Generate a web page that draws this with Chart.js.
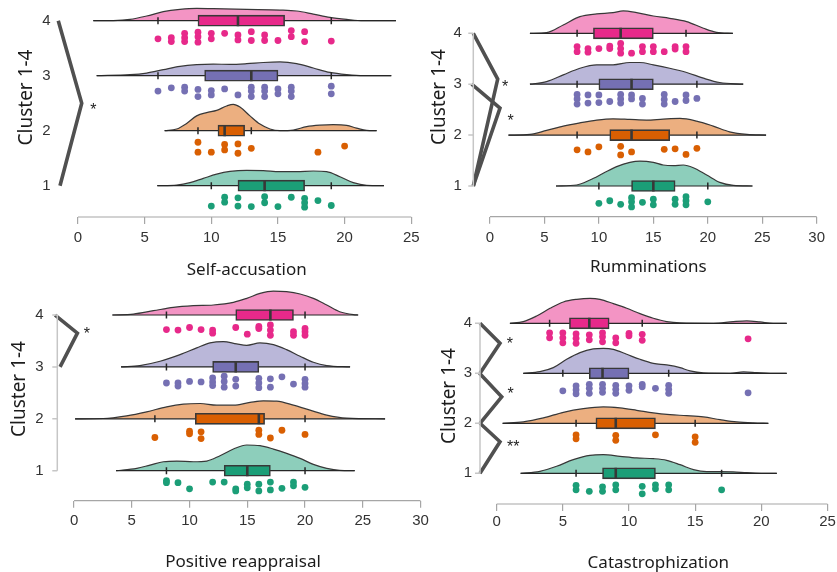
<!DOCTYPE html>
<html>
<head>
<meta charset="utf-8">
<title>Cluster 1-4 raincloud plots</title>
<script src="https://cdn.jsdelivr.net/npm/chart.js@4.4.1/dist/chart.umd.min.js"></script>
<style>
  html, body { margin: 0; padding: 0; background: #fff; width: 837px; height: 572px; overflow: hidden; position: relative; }
  canvas { position: absolute; }
</style>
</head>
<body>
<canvas id="selfChart" width="440" height="300" style="left:0;top:-20px"></canvas>
<canvas id="rumChart" width="440" height="300" style="left:420px;top:-20px"></canvas>
<canvas id="posChart" width="440" height="312" style="left:0;top:260px"></canvas>
<canvas id="catChart" width="440" height="312" style="left:420px;top:260px"></canvas>
<script>
// ---- data (index 0 = cluster 1 ... index 3 = cluster 4) ----
const clusters = [1, 2, 3, 4];
const yTitle = "Cluster 1-4";

// box: [low whisker, q1, median, q3, high whisker]
// dens: [score, density height]   pts: [score, jitter]
// brackets: [from, fromX, to, toX, apexX, apexY, label, labelX, labelY]

// Self-accusation
const selfTicks = [0, 5, 10, 15, 20, 25];
const selfBox = [[10, 12, 14, 17, 19], [9, 10.5, 11, 12.5, 13], [6, 9.5, 13, 15, 19], [6, 9, 12, 15.5, 19]];
const selfDens = [
  [[5.95,0],[7.4,.012],[8.4,.055],[9.4,.133],[10.4,.21],[11.4,.26],[12.65,.28],[13.9,.273],[15.15,.255],[16.4,.255],[17.65,.267],[18.65,.255],[19.65,.164],[20.65,.055],[21.65,.006],[22.95,0]],
  [[6.5,0],[7.4,.03],[8.15,.133],[8.9,.27],[9.65,.33],[10.4,.37],[11.15,.45],[11.65,.48],[12.15,.43],[12.9,.27],[13.65,.12],[14.4,.03],[15.15,0],[16.15,.012],[17.15,.073],[18.15,.1],[19.15,.11],[20.15,.097],[20.9,.048],[21.65,.006],[22.4,0]],
  [[1.4,0],[3.9,.018],[5.15,.048],[6.4,.11],[7.65,.17],[8.9,.2],[10.15,.21],[11.4,.206],[12.65,.218],[13.9,.24],[15.15,.25],[16.4,.22],[17.65,.14],[18.9,.06],[20.15,.02],[21.4,0],[23.5,0]],
  [[1.15,0],[2.65,.003],[3.9,.024],[5.15,.085],[6.4,.164],[7.65,.206],[8.9,.224],[10.15,.218],[12.65,.206],[15.15,.194],[16.4,.176],[17.65,.12],[18.9,.06],[20.15,.024],[21.4,0],[23.85,0]]
];
const selfPts = [
  [[10,.37],[11,.21],[11,.30],[12,.22],[12,.37],[13,.38],[14,.20],[14,.31],[15,.38],[16,.21],[17,.23],[17,.31],[17,.39],[18,.27],[19,.36]],
  [[9,.21],[9,.39],[10,.39],[11,.25],[11,.35],[12,.24],[12,.41],[13,.32],[18,.39],[20,.28]],
  [[6,.28],[7,.22],[8,.21],[8,.28],[9,.25],[9,.38],[10,.27],[10,.35],[11,.24],[12,.35],[13,.21],[13,.28],[13,.38],[14,.21],[14,.28],[14,.38],[15,.24],[15,.33],[16,.21],[16,.28],[16,.38],[19,.19],[19,.33]],
  [[6,.33],[7,.31],[7,.38],[8,.23],[8,.31],[8,.38],[9,.21],[9,.29],[9,.39],[10,.23],[10,.33],[11,.23],[12,.26],[12,.35],[13,.2],[13,.36],[14,.26],[14,.36],[15,.36],[16,.18],[16,.29],[17,.2],[17,.38],[19,.37]]
];
const selfBrackets = [[4, -1.48, 1, -1.35, 0.28, 2.5, "*", 1.15, 2.45]];

// Rumminations
const rumTicks = [0, 5, 10, 15, 20, 25, 30];
const rumBox = [[10, 13, 15, 17, 20], [8, 11, 13, 16.5, 19], [8, 10, 13, 15, 19], [8, 9.5, 12, 15, 18]];
const rumDens = [
  [[6.06,0],[7.96,.02],[9.18,.118],[10.4,.249],[11.63,.38],[12.85,.465],[13.77,.49],[15,.465],[15.9,.413],[16.84,.4],[17.75,.413],[18.67,.36],[19.9,.216],[21.1,.072],[22.35,.013],[24.1,0]],
  [[1.7,0],[3.67,.013],[5.2,.092],[6.73,.177],[8.26,.242],[9.8,.295],[11.3,.32],[12.84,.308],[14.37,.295],[15.9,.314],[17.44,.327],[18.97,.275],[20.5,.177],[22,.065],[23.6,.013],[25.35,0]],
  [[3.67,0],[5.2,.052],[6.73,.183],[8.26,.314],[9.8,.38],[11.3,.38],[12.84,.426],[13.76,.426],[15,.38],[16.5,.314],[18.06,.23],[19.6,.118],[21.1,.033],[23.25,0]],
  [[3.67,0],[5.2,.013],[6.73,.164],[8.26,.327],[9.8,.38],[11.3,.406],[12.24,.44],[13.47,.406],[15,.34],[16.5,.295],[18.06,.23],[19.6,.1],[20.8,.02],[22.3,0]]
];
const rumPts = [
  [[10,.34],[11,.29],[12,.36],[13,.23],[13,.31],[13,.41],[14,.32],[15,.26],[15,.37],[17,.26],[17,.36],[18,.21],[18,.29],[18,.37],[20,.31]],
  [[8,.29],[9,.33],[10,.23],[12,.22],[12,.39],[13,.33],[16,.28],[17,.27],[18,.38],[19,.26]],
  [[8,.2],[8,.29],[8,.39],[9,.21],[9,.37],[10,.21],[10,.36],[11,.34],[12,.2],[12,.29],[12,.37],[13,.21],[13,.29],[14,.28],[14,.39],[16,.2],[16,.3],[16,.39],[17,.34],[18,.21],[18,.32],[19,.28]],
  [[8,.26],[8,.36],[9,.3],[9,.37],[10,.3],[11,.25],[11,.3],[12,.2],[12,.3],[12,.39],[13,.39],[14,.26],[14,.36],[15,.26],[15,.36],[16,.36],[17,.26],[17,.31],[18,.26],[18,.36]]
];
const rumBrackets = [[4, -1.53, 1, -1.53, 0.71, 3.1, "*", 1.38, 3.02], [3, -1.68, 1, -1.53, 0.92, 2.53, "*", 1.9, 2.36]];

// Positive reappraisal
const posTicks = [0, 5, 10, 15, 20, 25, 30];
const posBox = [[8, 13, 15, 17, 20], [7, 10.5, 16, 16.5, 20], [8, 12, 14, 16, 20], [8, 14, 17, 19, 20]];
const posDens = [
  [[3.64,0],[5.43,.045],[6.58,.109],[7.74,.173],[8.9,.186],[10.33,.173],[11.49,.186],[12.64,.289],[13.8,.417],[14.95,.495],[16.1,.482],[17.26,.417],[18.41,.334],[19.57,.238],[20.72,.122],[21.88,.045],[23,.006],[24.3,0]],
  [[0.09,0],[2.54,.006],[4.56,.058],[6.29,.135],[8.02,.231],[9.47,.283],[10.91,.295],[12.35,.263],[13.8,.263],[15.24,.315],[16.39,.347],[17.55,.34],[18.99,.263],[20.43,.167],[21.88,.071],[23.6,.013],[26.93,0]],
  [[4.07,0],[5.7,.026],[7.45,.109],[9.18,.238],[10.62,.366],[11.77,.462],[12.93,.488],[14.08,.443],[14.95,.417],[16.1,.462],[17.26,.43],[18.4,.334],[19.57,.206],[20.72,.09],[21.88,.026],[23.9,0]],
  [[3.32,0],[5.14,.019],[6.87,.083],[8.6,.148],[10.33,.18],[12.06,.193],[13.8,.244],[14.95,.321],[16.1,.417],[17.26,.462],[18.4,.45],[19.57,.405],[20.72,.321],[21.88,.193],[23,.064],[24.2,.006],[24.6,0]]
];
const posPts = [
  [[8,.19],[8,.23],[9,.23],[10,.35],[12,.22],[13,.22],[14,.35],[14,.39],[15,.26],[15,.33],[16,.26],[16,.39],[17,.22],[17,.37],[18,.34],[19,.22],[19,.29],[20,.32]],
  [[7,.36],[10,.24],[10,.29],[11,.25],[11,.38],[16,.22],[16,.3],[17,.37],[18,.22],[20,.3]],
  [[8,.31],[9,.31],[9,.37],[10,.28],[11,.29],[12,.21],[12,.29],[12,.36],[13,.18],[13,.28],[13,.39],[14,.24],[14,.37],[16,.22],[16,.31],[16,.4],[17,.23],[17,.39],[18,.19],[19,.33],[20,.24],[20,.32],[20,.39]],
  [[8,.28],[9,.29],[10,.24],[11,.28],[12,.29],[12,.35],[14,.24],[15,.37],[16,.22],[16,.26],[17,.19],[17,.29],[17,.39],[19,.32],[19,.39],[20,.26],[20,.32],[20,.39]]
];
const posBrackets = [[4, -1.64, 3, -1.21, 0.29, 3.65, "*", 1.1, 3.72]];

// Catastrophization
const catTicks = [0, 5, 10, 15, 20, 25];
const catBox = [[6, 8, 9, 12, 17], [6, 7.5, 9, 12, 15], [5, 7, 8, 10, 13], [4, 5.5, 7, 8.5, 11]];
const catDens = [
  [[1.81,0],[3.27,.04],[4.53,.14],[5.79,.273],[7.05,.36],[8.06,.373],[9.32,.34],[10.58,.307],[11.84,.293],[12.85,.26],[13.86,.173],[14.87,.073],[15.87,.033],[16.88,.033],[17.89,.027],[18.9,.013],[20.16,0],[21.17,0]],
  [[0.45,0],[2.01,.027],[3.53,.107],[5.04,.22],[6.55,.293],[8.06,.327],[9.32,.307],[10.58,.26],[11.84,.207],[13.1,.173],[14.36,.153],[15.62,.127],[16.88,.073],[18.14,.027],[19.4,.007],[20.53,0]],
  [[2.01,0],[3.27,.033],[4.28,.113],[5.29,.28],[6.3,.413],[7.3,.487],[8.06,.5],[8.82,.48],[9.83,.38],[10.83,.28],[11.84,.2],[12.85,.167],[13.86,.113],[14.61,.047],[15.62,.007],[17.64,0],[18.65,.027],[19.66,.013],[20.67,0],[21.92,0]],
  [[1,0],[2.01,.033],[3.02,.147],[4.03,.3],[5.04,.427],[6.05,.48],[7.05,.5],[7.81,.48],[8.82,.393],[9.83,.3],[10.83,.193],[11.84,.1],[12.85,.033],[13.86,.007],[16.38,0],[17.89,.033],[18.9,.047],[19.9,.027],[20.9,0],[21.92,0]]
];
const catPts = [
  [[6,.24],[6,.33],[7,.36],[8,.27],[8,.36],[9,.23],[9,.33],[11,.26],[11,.41],[12,.23],[12,.31],[13,.23],[13,.33],[17,.33]],
  [[6,.23],[6,.31],[9,.24],[9,.34],[12,.23],[15,.27],[15,.38]],
  [[5,.35],[6,.25],[6,.33],[6,.41],[7,.22],[7,.3],[7,.4],[8,.22],[8,.3],[8,.38],[9,.24],[9,.32],[9,.4],[10,.25],[10,.34],[11,.22],[11,.27],[12,.3],[13,.24],[13,.32],[13,.4],[19,.39]],
  [[4,.19],[4,.29],[5,.19],[5,.29],[5,.39],[6,.21],[6,.3],[6,.4],[7,.23],[7,.33],[8,.19],[8,.27],[8,.37],[9,.29],[9,.39],[10,.2],[10,.25],[11,.22],[11,.34],[19,.31]]
];
const catBrackets = [
  [4, -1.26, 3, -1.26, 0.25, 3.6, "*", 1.0, 3.67],
  [3, -1.3, 2, -1.26, 0.38, 2.53, "*", 1.06, 2.67],
  [2, -1.26, 1, -1.26, 0.25, 1.63, "**", 1.25, 1.6]
];

// ---- styling ----
const boxColors = ["#1b9e77", "#d95f02", "#7570b3", "#e7298a"];
const cloudColors = ["rgba(27,158,119,0.5)", "rgba(217,95,2,0.5)", "rgba(117,112,179,0.5)", "rgba(231,41,138,0.5)"];
const tickFont = { family: "'Liberation Sans', Arial, sans-serif", size: 15 };
const dark = "#383838";

function framePlugin(p) {
  return {
    id: "frame",
    afterDraw(chart) {
      const { ctx, chartArea, scales: { x, y } } = chart;
      ctx.save();
      // range-frame x axis
      ctx.strokeStyle = "#a6a6a6";
      ctx.lineWidth = 1.2;
      ctx.beginPath();
      ctx.moveTo(x.getPixelForValue(p.xTicks[0]), chartArea.bottom);
      ctx.lineTo(x.getPixelForValue(p.xTicks[p.xTicks.length - 1]), chartArea.bottom);
      ctx.stroke();
      // range-frame y axis with its tick marks
      if (p.yLine) {
        ctx.strokeStyle = "#c6c6c6";
        ctx.lineWidth = 1.5;
        ctx.beginPath();
        ctx.moveTo(chartArea.left, y.getPixelForValue(clusters[clusters.length - 1]));
        ctx.lineTo(chartArea.left, y.getPixelForValue(clusters[0]));
        clusters.forEach(c => {
          ctx.moveTo(chartArea.left - 5, y.getPixelForValue(c));
          ctx.lineTo(chartArea.left, y.getPixelForValue(c));
        });
        ctx.stroke();
      }
      // significance labels
      ctx.fillStyle = "#222";
      ctx.font = "16px 'Liberation Sans', Arial, sans-serif";
      ctx.textAlign = "center";
      ctx.textBaseline = "alphabetic";
      p.brackets.forEach(b => ctx.fillText(b[6], x.getPixelForValue(b[7]), y.getPixelForValue(b[8]) + 9));
      // axis titles
      ctx.fillStyle = "#1c1c1c";
      ctx.textBaseline = "middle";
      ctx.font = "17px 'Noto Sans', sans-serif";
      ctx.fillText(p.title, p.titleX, p.titleY);
      ctx.translate(p.yTitleX, p.yTitleY);
      ctx.rotate(-Math.PI / 2);
      ctx.font = "19px 'Noto Sans', sans-serif";
      ctx.fillText(yTitle, 0, 0);
      ctx.restore();
    }
  };
}

function makeChart(id, p) {
  const datasets = [];
  clusters.forEach((c, i) => {
    const dens = p.dens[i];
    const box = p.box[i];
    // half-violin cloud
    datasets.push({
      data: dens.map(d => ({ x: d[0], y: c + d[1] })),
      borderColor: dark, borderWidth: 1.2, backgroundColor: cloudColors[i],
      fill: { value: c }, cubicInterpolationMode: "monotone", pointRadius: 0, order: 6, clip: false
    });
    // baseline / whisker line
    datasets.push({
      data: [{ x: dens[0][0], y: c }, { x: dens[dens.length - 1][0], y: c }],
      borderColor: "#262626", borderWidth: 1.2, pointRadius: 0, order: 5
    });
    // whisker ends
    datasets.push({
      data: [{ x: box[0], y: c }, { x: box[4], y: c }],
      showLine: false, pointStyle: "line", rotation: 90, pointRadius: 3.5,
      pointBorderColor: "#262626", pointBorderWidth: 1.5, order: 4
    });
    // median
    datasets.push({
      data: [{ x: box[2], y: c }],
      showLine: false, pointStyle: "line", rotation: 90, pointRadius: 5.5,
      pointBorderColor: dark, pointBorderWidth: 2.6, order: 2
    });
    // raw points
    datasets.push({
      data: p.pts[i].map(q => ({ x: q[0], y: c - q[1] })),
      showLine: false, pointRadius: 3.4, pointBackgroundColor: boxColors[i],
      pointBorderWidth: 0, order: 1, clip: false
    });
  });
  // boxes (q1..q3)
  datasets.push({
    type: "bar", indexAxis: "y",
    data: p.box.map((b, i) => ({ x: [b[1], b[3]], y: clusters[i] })),
    backgroundColor: boxColors, borderColor: dark, borderWidth: 1.6,
    borderSkipped: false, barThickness: 11, order: 3
  });
  // significance brackets
  p.brackets.forEach(b => datasets.push({
    data: [{ x: b[1], y: b[0] }, { x: b[4], y: b[5] }, { x: b[3], y: b[2] }],
    borderColor: "#505050", borderWidth: 3.6, borderJoinStyle: "miter",
    pointRadius: 0, order: 7, clip: false
  }));

  return new Chart(document.getElementById(id), {
    type: "line",
    data: { datasets },
    plugins: [framePlugin(p)],
    options: {
      responsive: false,
      devicePixelRatio: 1,
      animation: false,
      events: [],
      layout: { padding: { left: 0, top: p.top, right: p.right, bottom: 0 } },
      plugins: { legend: { display: false }, tooltip: { enabled: false } },
      scales: {
        x: {
          type: "linear", min: p.xmin, max: p.xmax, offset: false,
          afterBuildTicks: ax => { ax.ticks = p.xTicks.map(v => ({ value: v })); },
          afterFit: ax => { ax.height = p.xAxisH; },
          border: { display: false },
          grid: { drawOnChartArea: false, drawTicks: true, tickLength: 7, color: "#a6a6a6", lineWidth: 1.2 },
          ticks: { font: tickFont, color: "#333", padding: p.xPad, maxRotation: 0, autoSkip: false }
        },
        y: {
          type: "linear", min: p.ymin, max: p.ymax, offset: false,
          afterBuildTicks: ax => { ax.ticks = clusters.map(v => ({ value: v })); },
          afterFit: ax => { ax.width = p.left; },
          border: { display: false },
          grid: { display: false, drawTicks: false },
          ticks: { font: tickFont, color: "#333", padding: p.yPad }
        }
      }
    }
  });
}

makeChart("selfChart", {
  box: selfBox, dens: selfDens, pts: selfPts, brackets: selfBrackets, xTicks: selfTicks,
  title: "Self-accusation", xmin: -1.65, xmax: 26, ymin: 0.431, ymax: 4.3,
  left: 56, right: 15.4, top: 24.2, xAxisH: 63, xPad: 5, yPad: 5.5, yLine: false,
  titleX: 246.7, titleY: 290, yTitleX: 27, yTitleY: 117.5
});
makeChart("rumChart", {
  box: rumBox, dens: rumDens, pts: rumPts, brackets: rumBrackets, xTicks: rumTicks,
  title: "Rumminations", xmin: -1.53, xmax: 31, ymin: 0.397, ymax: 4.56,
  left: 53.3, right: 32.4, top: 24.8, xAxisH: 63.3, xPad: 5, yPad: 11.4, yLine: true,
  titleX: 228.3, titleY: 286.7, yTitleX: 20, yTitleY: 117
});
makeChart("posChart", {
  box: posBox, dens: posDens, pts: posPts, brackets: posBrackets, xTicks: posTicks,
  title: "Positive reappraisal", xmin: -1.45, xmax: 30.5, ymin: 0.422, ymax: 4.54,
  left: 57.3, right: 13.7, top: 27, xAxisH: 71.3, xPad: 4, yPad: 13.8, yLine: true,
  titleX: 243, titleY: 301.7, yTitleX: 20, yTitleY: 129
});
makeChart("catChart", {
  box: catBox, dens: catDens, pts: catPts, brackets: catBrackets, xTicks: catTicks,
  title: "Catastrophization", xmin: -1.26, xmax: 26, ymin: 0.386, ymax: 4.7,
  left: 60, right: 19.3, top: 28.3, xAxisH: 68, xPad: 2, yPad: 8, yLine: true,
  titleX: 238.3, titleY: 302.7, yTitleX: 29.3, yTitleY: 136
});
</script>
</body>
</html>
